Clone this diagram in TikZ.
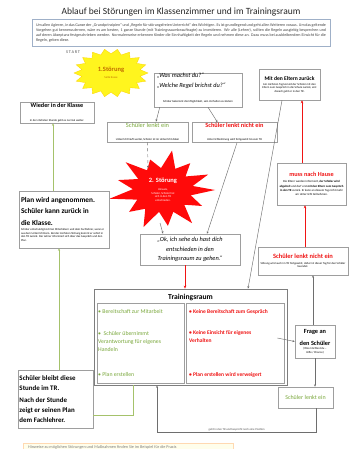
\documentclass[tikz,border=0pt]{standalone}
\usepackage{fontspec}
\setmainfont{Carlito}
\usetikzlibrary{arrows.meta,shadows,shapes.geometric,calc}
\definecolor{tgreen}{HTML}{7AA83C}
\definecolor{tred}{HTML}{F01414}
\definecolor{lgreen}{HTML}{A5C26B}
\definecolor{bgray}{HTML}{9E9E9E}
\definecolor{lgray}{HTML}{6E6E6E}
\definecolor{sorange}{HTML}{C06A00}
\definecolor{syellow}{HTML}{FFF51E}
\definecolor{introc}{HTML}{9FB0C8}
\definecolor{starred}{HTML}{FF0A0A}
\newcommand\kt{\fontsize{2.9}{3.6}\selectfont}
\begin{document}
\begin{tikzpicture}[x=1pt,y=-1pt,
  bx/.style={draw=bgray, line width=0.5pt, fill=white, inner sep=1pt, align=flush center},
  shad/.style={drop shadow={shadow xshift=1.2pt, shadow yshift=-1.2pt, opacity=0.45, fill=gray}},
  ga/.style={draw=lgray, line width=0.45pt, -{Stealth[length=2.4pt,width=2pt]}},
  ra/.style={draw=tred, line width=1pt, -{Stealth[length=3pt,width=2.6pt]}},
  gra/.style={draw=lgreen, line width=0.8pt, -{Stealth[length=2.6pt,width=2.2pt]}},
  gl/.style={draw=lgreen, line width=0.8pt},
  txt/.style={inner sep=0pt, align=flush center},
]
\fill[white] (0,0) rectangle (361,449);
\useasboundingbox (0,0) rectangle (361,449);

% title and intro
\node[txt, font=\fontsize{9.5}{11}\selectfont, text=black!85] (title) at (181,12) {Ablauf bei Störungen im Klassenzimmer und im Trainingsraum};
\node[draw=introc, line width=0.5pt, minimum width=298, minimum height=27, text width=290, align=justify, inner sep=0pt, font=\fontsize{4}{4.9}\selectfont, text=black!75] (intro) at (181,33) {Um allen Agieren, in das Ganze der „Grundprinzipien“ und „Regeln für störungsfreien Unterricht“ des Wichtigen. Es ist grundlegend und geht allen Weiteren voraus. Um das geltende Vorgehen gut kennenzulernen, wäre es am besten, 1 ganze Stunde (mit Trainingsraumbeauftragte) zu investieren. Wir alle (Lehrer), sollten die Regeln ausgiebig besprechen und auf deren Akzeptanz festgeschrieben werden. Normalerweise erkennen Kinder die Sinnhaftigkeit der Regeln und nehmen diese an. Dazu muss bei ausbleibendem Einsicht für die Regeln, geben diese.};
\node[txt, font=\bfseries\fontsize{4.2}{5}\selectfont, text=gray] (start) at (73,52) {S\,T\,A\,R\,T};

% yellow star
\fill[syellow, draw=yellow!70!orange, line width=0.3pt] (148,73)
  \foreach \i [evaluate=\i as \r using {mod(\i,2)==0 ? 1 : 0.8}] in {1,...,35} { -- ({111+37*\r*cos(\i*10)},{73+24*\r*sin(\i*10)}) } -- cycle;
\node[ellipse, minimum width=72, minimum height=46, inner sep=0pt] (s1) at (111,73) {};
\node[txt, font=\bfseries\fontsize{6.5}{7}\selectfont, text=sorange] (s1t) at (111,70) {1.Störung};
\node[txt, font=\kt, text=sorange] (s1s) at (111,78) {Seite Kasse};

% red star
\fill[starred] (215,190)
  \foreach \a/\f in {14/0.55, 28/0.85, 42/0.55, 56/1.0, 70/0.58, 84/0.9, 98/0.55, 112/1.0, 126/0.58, 140/0.85, 154/0.55, 168/1.05, 182/0.58, 196/0.9, 210/0.55, 224/1.0, 238/0.58, 252/0.8, 266/0.55, 280/1.0, 294/0.58, 308/0.85, 322/0.55, 336/0.95, 350/0.58}
  { -- ({163+52*\f*cos(\a)},{190+40*\f*sin(\a)}) } -- cycle;
\node[ellipse, minimum width=104, minimum height=80, inner sep=0pt] (s2) at (163,190) {};
\node[txt, font=\bfseries\fontsize{6.5}{7}\selectfont, text=white] (s2t) at (163,181) {2. Störung};
\node[txt, font=\kt, text=white, text width=40] (s2s) at (163,195) {Hinweis,\\Schüler, Schüler hat\\sich in den TR\\entschieden.};
\coordinate (s2in) at (148,168);
\coordinate (s2out) at (160,223);

% question box
\node[bx, minimum width=88, minimum height=34] (q1) at (198,90) {};
\node[txt, anchor=north west, align=flush left, font=\itshape\fontsize{6.3}{10}\selectfont] (q1t) at (157,73) {„Was machst du?“\\„Welche Regel brichst du?“};
\node[txt, font=\kt, text width=70] (q1s) at (198,101.5) {Schüler bekommt die Möglichkeit, sein Verhalten zu ändern};

% upper boxes
\node[bx, minimum width=74, minimum height=21, text width=70] (wieder) at (57,112.5) {{\bfseries\fontsize{6.2}{7}\selectfont Wieder in der Klasse}\\[1.5pt]{\kt In der nächsten Stunde geht es normal weiter.}};
\node[bx, minimum width=81, minimum height=20, text width=77] (ein1) at (147.5,132) {{\fontsize{6.4}{7}\selectfont\color{tgreen}Schüler lenkt ein}\\[1pt]{\kt Unterricht läuft weiter, Schüler ist im Unterricht dabei}};
\node[bx, minimum width=85, minimum height=19, text width=81] (nein1) at (234.5,132.5) {{\bfseries\fontsize{6.3}{7}\selectfont\color{tred}Schüler lenkt nicht ein}\\[1pt]{\kt Unterrichtsstörung wird fortgesetzt bis zum TR}};
\node[bx, minimum width=61, minimum height=31, text width=57] (eltern) at (289.5,84.5) {{\bfseries\fontsize{5.6}{6.5}\selectfont Mit den Eltern zurück}\\[1.5pt]{\kt Am nächsten Tag kommt der Schüler mit den Eltern zum Gespräch in die Schule zurück, erst danach geht er in den TR.\par}};
\node[bx, minimum width=69, minimum height=42, text width=64] (hause) at (311.5,184) {{\bfseries\fontsize{6.2}{7}\selectfont\color{tred}muss nach Hause}\\[2pt]{\fontsize{3}{4.2}\selectfont Die Eltern werden informiert, \textbf{der Schüler wird abgeholt} und darf erst \textbf{mit den Eltern zum Gespräch in den TR} zurück. Er kann an diesem Tag nicht mehr am Unterricht teilnehmen.\par}};
\node[bx, minimum width=90, minimum height=28, text width=86] (nein2) at (303,261) {{\bfseries\fontsize{6.5}{7.5}\selectfont\color{tred}Schüler lenkt nicht ein}\\[2pt]{\kt Störung wird auch im TR fortgesetzt, daher ist dieser Tag für den Schüler beendet.\par}};

% left boxes
\node[bx, shad, minimum width=90, minimum height=57, text width=86, align=flush left] (plan) at (64,219.5) {{\bfseries\fontsize{7.3}{10.5}\selectfont Plan wird angenommen.\\Schüler kann zurück in\\die Klasse.}\\[2pt]{\kt Schüler entschuldigt sich bei Mitschülern und dem Fachlehrer, wenn er aus dem Unterricht kam. Bei der nächsten Störung kommt er sofort in den TR zurück. Der Lehrer informiert sich über das Gespräch und den Plan.\par}};
\node[bx, shad, minimum width=75, minimum height=58, text width=72, align=flush left, font=\bfseries\fontsize{6.9}{9.6}\selectfont] (bleibt) at (55.5,399) {Schüler bleibt diese\\Stunde im TR.\\[3pt]Nach der Stunde\\zeigt er seinen Plan\\dem Fachlehrer.};

% ok box
\node[bx, minimum width=100, minimum height=31, text width=96, font=\itshape\fontsize{6.3}{9.6}\selectfont] (ok) at (190,249.5) {„Ok, ich sehe du hast dich\\entschieden in den\\Trainingsraum zu gehen.“};

% training room
\node[draw=bgray!80!black, line width=0.8pt, fill=white, shad, minimum width=193, minimum height=96] (tr) at (190.5,337) {};
\node[txt, font=\bfseries\fontsize{7.6}{9}\selectfont] (trt) at (190.5,297) {Trainingsraum};
\node[draw=bgray, line width=0.6pt, minimum width=87, minimum height=80] (trl) at (140.5,343) {};
\node[draw=bgray, line width=0.6pt, minimum width=98, minimum height=80] (trr) at (235,343) {};
\node[txt, anchor=west, font=\fontsize{5.8}{8}\selectfont, text=tgreen] (l1) at (98,312) {• Bereitschaft zur Mitarbeit};
\node[txt, anchor=north west, align=flush left, text width=84, font=\fontsize{5.8}{8.3}\selectfont, text=tgreen] (l2) at (98,331) {•\ \ Schüler übernimmt\\Verantwortung für eigenes\\Handeln};
\node[txt, anchor=west, font=\fontsize{5.8}{8}\selectfont, text=tgreen] (l3) at (98,375) {• Plan erstellen};
\node[txt, anchor=west, font=\bfseries\fontsize{5.5}{8}\selectfont, text=tred] (r1) at (189,312) {• Keine Bereitschaft zum Gespräch};
\node[txt, anchor=north west, align=flush left, text width=93, font=\bfseries\fontsize{5.5}{8}\selectfont, text=tred] (r2) at (189,330) {• Keine Einsicht für eigenes\\Verhalten};
\node[txt, anchor=west, font=\bfseries\fontsize{5.5}{8}\selectfont, text=tred] (r3) at (189,375) {• Plan erstellen wird verweigert};

% right lower
\node[bx, minimum width=40, minimum height=33, text width=38] (frage) at (315,341.5) {{\bfseries\fontsize{6.3}{9.5}\selectfont Frage an\\den Schüler}\\[1pt]{\kt (Wie möchtest du –\\Hilfe / Chance)\par}};
\node[bx, shad, minimum width=55, minimum height=21, font=\fontsize{6}{7}\selectfont, text=tgreen] (ein2) at (305.5,397.5) {Schüler lenkt ein};

% footer
\node[draw=orange!30, fill=yellow!8, line width=0.5pt, minimum width=210, minimum height=15, anchor=north west, inner sep=0pt] (foot) at (23,443) {};
\node[txt, anchor=west, font=\fontsize{4.2}{5}\selectfont, text=gray] (foott) at (28,447) {Hinweise zu möglichen Störungen und Maßnahmen finden Sie im Beispiel für die Praxis};

% connectors
\draw[ga] ($(q1.south west)+(6,0)$) -- ($(ein1.north)+(8.5,0)$);
\draw[ga] ($(q1.south)+(10,0)$) -- ($(nein1.north)+(-17,0)$);
\draw[ga, dashed] (ein1.south) -- (s2in);
\draw[ga] ($(nein1.south)+(2.5,0)$) -- ($(ok.north)+(17,0)$);
\draw[ga] (s2out) -- ($(ok.north)+(-27,0)$);
\draw[ra] ($(ok.south)+(-5,0)$) -- ($(tr.north)+(-5.5,0)$);
\draw[ga] ($(eltern.south)+(-7.5,0)$) -- ($(tr.north)+(57.5,0)$);
\draw[ra] ($(hause.north)+(-9.5,0)$) -- ($(eltern.south)+(12.5,0)$);
\draw[ra] ($(nein2.north)+(2,0)$) -- ($(hause.south)+(-6.5,0)$);
\draw[ga] ($(trr.east)+(-7,-5)$) -- (frage.west);
\draw[ga] ($(frage.north)+(-2,0)$) -- ($(nein2.south)+(10,0)$);
\draw[ga] (frage.south) -- ($(ein2.north)+(9.5,0)$);
\draw[ga] ($(ein2.south)+(11,0)$) -- ++(0,24) -| ($(tr.south)+(-33.5,0)$)
  node[pos=0.25, above, inner sep=1pt, font=\kt, text=black!70] {geht in den TR und bespricht noch eine Position};
\draw[gl] ($(tr.south)+(-57.5,0)$) |- ($(bleibt.east)+(0,16)$);
\draw[gra] ($(bleibt.north)+(3.5,0)$) -- ($(plan.south)+(-5,0)$);
\draw[gra] ($(plan.north)+(-11,0)$) -- ($(wieder.south)+(-4,0)$);
\end{tikzpicture}
\end{document}
